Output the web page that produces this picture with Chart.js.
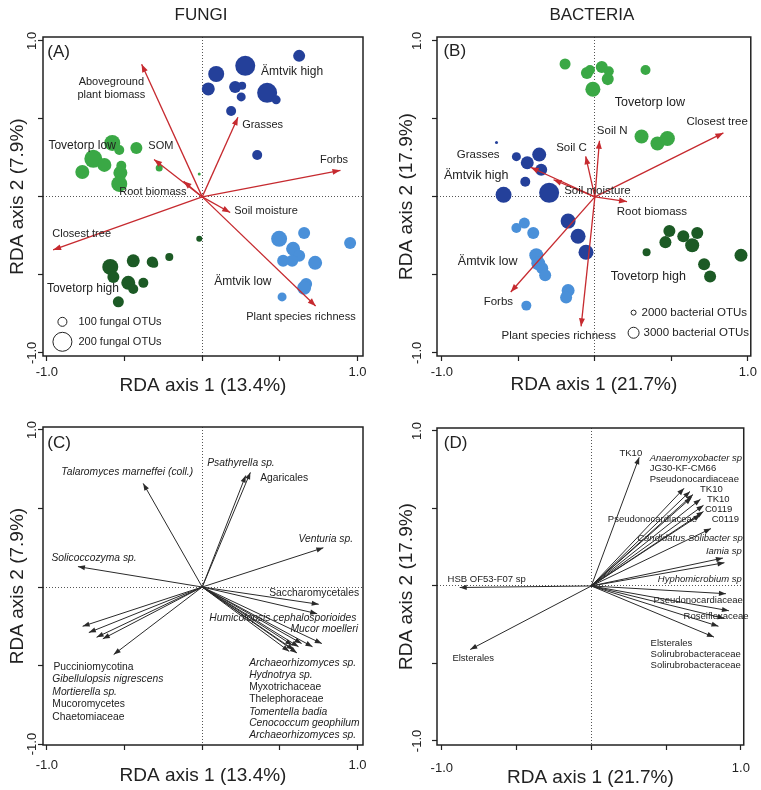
<!DOCTYPE html>
<html>
<head>
<meta charset="utf-8">
<script src="https://cdn.jsdelivr.net/npm/chart.js@4.4.0/dist/chart.umd.min.js"></script>
<style>
  html, body { margin: 0; padding: 0; background: #fff; }
  #wrap { position: relative; width: 761px; height: 790px; }
  canvas { position: absolute; }
</style>
</head>
<body>
<div id="wrap">
  <canvas id="panelA" width="380" height="398" style="left:0;top:0"></canvas>
  <canvas id="panelB" width="381" height="398" style="left:380px;top:0"></canvas>
  <canvas id="panelC" width="380" height="392" style="left:0;top:398px"></canvas>
  <canvas id="panelD" width="381" height="392" style="left:380px;top:398px"></canvas>
</div>
<script>
const FONT = '"Liberation Sans", Arial, sans-serif';

const tickValues = [-1, -0.5, 0, 0.5, 1];
const tickLabels = ['-1.0', '', '', '', '1.0'];

// fungi: sample scores [RDA1, RDA2, OTU richness]
const fungiAmtvikHigh = [[0.624,0.904,130],[0.277,0.840,210],[0.090,0.788,170],[0.039,0.692,140],[0.212,0.705,130],[0.257,0.712,90],[0.251,0.641,100],[0.418,0.667,210],[0.476,0.622,100],[0.186,0.551,110],[0.354,0.269,110]];
const fungiTovetorpLow = [[-0.579,0.346,170],[-0.534,0.301,110],[-0.424,0.314,130],[-0.701,0.244,190],[-0.772,0.160,150],[-0.630,0.205,150],[-0.521,0.199,110],[-0.527,0.154,150],[-0.534,0.083,170],[-0.277,0.186,80],[-0.019,0.147,40]];
const fungiTovetorpHigh = [[-0.592,-0.449,170],[-0.572,-0.513,130],[-0.444,-0.410,140],[-0.322,-0.417,120],[-0.309,-0.429,90],[-0.212,-0.385,90],[-0.476,-0.551,150],[-0.444,-0.590,110],[-0.379,-0.551,110],[-0.540,-0.673,120],[-0.019,-0.269,70]];
const fungiAmtvikLow = [[0.495,-0.269,170],[0.656,-0.231,130],[0.952,-0.295,130],[0.585,-0.333,150],[0.624,-0.378,130],[0.521,-0.410,130],[0.579,-0.410,130],[0.727,-0.423,150],[0.669,-0.558,130],[0.656,-0.583,150],[0.514,-0.641,100]];

// bacteria: sample scores [RDA1, RDA2, OTU richness]
const bactTovetorpLow = [[-0.195,0.852,3000],[-0.052,0.794,3170],[-0.032,0.813,2830],[0.045,0.832,3170],[0.091,0.806,2830],[0.084,0.755,3170],[-0.013,0.690,3670],[0.331,0.813,2830],[0.305,0.387,3500],[0.409,0.342,3500],[0.474,0.374,3670]];
const bactAmtvikHigh = [[-0.643,0.348,1670],[-0.513,0.258,2670],[-0.364,0.271,3500],[-0.442,0.219,3330],[-0.351,0.174,3170],[-0.455,0.097,2830],[-0.597,0.013,3830],[-0.299,0.026,4500],[-0.175,-0.155,3670],[-0.110,-0.252,3670],[-0.058,-0.355,3670]];
const bactAmtvikLow = [[-0.513,-0.200,2830],[-0.461,-0.168,3000],[-0.403,-0.232,3170],[-0.383,-0.374,3500],[-0.370,-0.426,3500],[-0.344,-0.458,3170],[-0.325,-0.503,3170],[-0.175,-0.600,3330],[-0.188,-0.645,3170],[-0.448,-0.697,2830]];
const bactTovetorpHigh = [[0.487,-0.219,3170],[0.578,-0.252,3170],[0.669,-0.232,3170],[0.461,-0.290,3170],[0.636,-0.310,3500],[0.338,-0.355,2500],[0.955,-0.374,3330],[0.714,-0.432,3170],[0.753,-0.510,3170]];

// environmental vectors
const fungiEnvNames = ['Aboveground plant biomass','Grasses','Forbs','SOM','Root biomass','Soil moisture','Closest tree','Plant species richness'];
const fungiEnvScores = [[-0.39,0.85],[0.23,0.51],[0.89,0.17],[-0.31,0.24],[-0.12,0.10],[0.18,-0.10],[-0.96,-0.34],[0.73,-0.70]];
const bactEnvNames = ['Closest tree','Soil N','Soil C','Grasses','Soil moisture','Root biomass','Forbs','Plant species richness'];
const bactEnvScores = [[0.84,0.41],[0.03,0.36],[-0.06,0.26],[-0.42,0.19],[-0.27,0.11],[0.21,-0.03],[-0.55,-0.61],[-0.09,-0.83]];

// taxa vectors
const fungiTaxaNames = ['Talaromyces marneffei (coll.)','Psathyrella sp.','Agaricales','Venturia sp.','Solicoccozyma sp.','Saccharomycetales','Humicolopsis cephalosporioides','Mucor moelleri','Archaeorhizomyces sp.','Hydnotrya sp.','Myxotrichaceae','Thelephoraceae','Tomentella badia','Cenococcum geophilum','Archaeorhizomyces sp.','Pucciniomycotina','Gibellulopsis nigrescens','Mortierella sp.','Mucoromycetes','Chaetomiaceae'];
const fungiTaxaScores = [[-0.38,0.66],[0.28,0.71],[0.31,0.73],[0.78,0.25],[-0.80,0.13],[0.75,-0.11],[0.74,-0.17],[0.77,-0.36],[0.71,-0.38],[0.64,-0.36],[0.62,-0.38],[0.58,-0.37],[0.59,-0.40],[0.56,-0.41],[0.61,-0.42],[-0.77,-0.25],[-0.73,-0.29],[-0.68,-0.32],[-0.64,-0.33],[-0.57,-0.43]];
const bactTaxaNames = ['TK10','Anaeromyxobacter sp','JG30-KF-CM66','Pseudonocardiaceae','TK10','TK10','C0119','C0119','Pseudonocardiaceae','Candidatus Solibacter sp','Iamia sp','Hyphomicrobium sp','HSB OF53-F07 sp','Pseudonocardiaceae','Roseiflexaceae','Elsterales','Solirubrobacteraceae','Solirubrobacteraceae','Elsterales'];
const bactTaxaScores = [[0.32,0.83],[0.62,0.63],[0.66,0.61],[0.68,0.59],[0.73,0.56],[0.75,0.52],[0.75,0.48],[0.73,0.46],[0.67,0.57],[0.80,0.37],[0.88,0.18],[0.89,0.15],[-0.88,-0.01],[0.90,-0.05],[0.92,-0.16],[0.89,-0.21],[0.85,-0.26],[0.82,-0.33],[-0.81,-0.41]];

const COL = {
  amtvikHigh: '#24409a',
  tovetorpLow: '#3aa845',
  tovetorpHigh: '#1c5a25',
  amtvikLow: '#4a90d9',
  env: '#c62a2f',
  taxa: '#2a2a2a',
  ink: '#222'
};

const fungiRadius = otus => 4.5 + (otus - 100) * 0.05;
const bactRadius = otus => 2.5 + (otus - 2000) * 0.003;

function bubbleSet(points, color, radius) {
  return {
    type: 'bubble',
    data: points.map(p => ({ x: p[0], y: p[1], r: radius(p[2]) })),
    backgroundColor: color,
    borderWidth: 0,
    order: 2
  };
}

function arrowSets(scores, color, width) {
  return scores.map(s => ({
    type: 'line',
    data: [{ x: 0, y: 0 }, { x: s[0], y: s[1] }],
    borderColor: color,
    borderWidth: width,
    pointRadius: 0,
    fill: false,
    order: 1,
    arrow: true
  }));
}

// per-panel decoration, looked up by canvas id
const decor = {};

const rdaDecor = {
  id: 'rdaDecor',
  afterDatasetsDraw(chart) {
    const d = decor[chart.canvas.id];
    const ctx = chart.ctx;
    chart.data.datasets.forEach((ds, i) => {
      if (!ds.arrow) return;
      const pts = chart.getDatasetMeta(i).data;
      const a = pts[0], b = pts[1];
      const ang = Math.atan2(b.y - a.y, b.x - a.x);
      ctx.save();
      ctx.fillStyle = ds.borderColor;
      ctx.translate(b.x, b.y);
      ctx.rotate(ang);
      ctx.beginPath();
      ctx.moveTo(0, 0);
      ctx.lineTo(-d.head[0], d.head[1]);
      ctx.lineTo(-d.head[0], -d.head[1]);
      ctx.closePath();
      ctx.fill();
      ctx.restore();
    });
  },
  afterDraw(chart) {
    const d = decor[chart.canvas.id];
    const ctx = chart.ctx;
    const area = chart.chartArea;
    const xs = chart.scales.x, ys = chart.scales.y;
    ctx.save();
    ctx.strokeStyle = COL.ink;
    ctx.lineWidth = 1.5;
    ctx.strokeRect(area.left, area.top, area.right - area.left, area.bottom - area.top);

    ctx.fillStyle = COL.ink;
    ctx.textBaseline = 'middle';

    // rotated y tick labels
    ctx.font = '13px ' + FONT;
    ctx.textAlign = 'center';
    tickValues.forEach((v, i) => {
      if (!tickLabels[i]) return;
      ctx.save();
      ctx.translate(area.left - d.yTickOff, ys.getPixelForValue(v));
      ctx.rotate(-Math.PI / 2);
      ctx.fillText(tickLabels[i], 0, 0);
      ctx.restore();
    });

    // axis titles
    ctx.font = '19px ' + FONT;
    ctx.fillText(d.xTitle, (area.left + area.right) / 2, area.bottom + d.xTitleOff);
    ctx.save();
    ctx.translate(area.left - d.yTitleOff, (area.top + area.bottom) / 2);
    ctx.rotate(-Math.PI / 2);
    ctx.fillText(d.yTitle, 0, 0);
    ctx.restore();

    if (d.heading) {
      ctx.font = '17px ' + FONT;
      ctx.fillText(d.heading, (area.left + area.right) / 2 - 2, 15);
    }

    // text labels
    d.labels.forEach(l => {
      ctx.font = d.fonts[l[0]] + ' ' + FONT;
      ctx.textAlign = l[4];
      ctx.fillText(l[1], xs.getPixelForValue(l[2]), ys.getPixelForValue(l[3]));
    });

    // size legend
    if (d.legend) {
      ctx.strokeStyle = COL.ink;
      ctx.lineWidth = 1;
      d.legend.forEach(c => {
        ctx.beginPath();
        ctx.arc(xs.getPixelForValue(c[0]), ys.getPixelForValue(c[1]), d.radius(c[2]), 0, Math.PI * 2);
        ctx.stroke();
      });
    }
    ctx.restore();
  }
};

function axis(range, dir, size, pad) {
  return {
    type: 'linear',
    min: range[0],
    max: range[1],
    afterBuildTicks: s => { s.ticks = tickValues.map(v => ({ value: v })); },
    afterFit: s => { if (dir === 'x') s.height = size; else s.width = size; },
    ticks: {
      display: dir === 'x',
      autoSkip: false,
      maxRotation: 0,
      minRotation: 0,
      padding: pad,
      color: COL.ink,
      font: { family: FONT, size: 13 },
      callback: (v, i) => tickLabels[i] || ''
    },
    grid: {
      color: c => (c.tick && c.tick.value === 0) ? '#555' : 'rgba(0,0,0,0)',
      lineWidth: 1,
      tickColor: COL.ink,
      tickBorderDash: [],
      tickLength: 5,
      tickWidth: 1.2
    },
    border: { display: false, dash: [1, 2] }
  };
}

function makeChart(id, datasets, d) {
  decor[id] = d;
  new Chart(document.getElementById(id), {
    type: 'bubble',
    data: { datasets: datasets },
    options: {
      responsive: false,
      animation: false,
      events: [],
      layout: { padding: { top: d.area.top, right: d.area.right, left: 0, bottom: 0 } },
      plugins: { legend: { display: false }, tooltip: { enabled: false } },
      scales: {
        x: axis(d.xRange, 'x', d.area.bottom, d.xTickPad),
        y: axis(d.yRange, 'y', d.area.left, 0)
      }
    },
    plugins: [rdaDecor]
  });
}

// (A) fungi, environment
makeChart('panelA', [
  ...arrowSets(fungiEnvScores, COL.env, 1.3),
  bubbleSet(fungiAmtvikHigh, COL.amtvikHigh, fungiRadius),
  bubbleSet(fungiTovetorpLow, COL.tovetorpLow, fungiRadius),
  bubbleSet(fungiTovetorpHigh, COL.tovetorpHigh, fungiRadius),
  bubbleSet(fungiAmtvikLow, COL.amtvikLow, fungiRadius)
], {
  area: { top: 37, right: 17, bottom: 42, left: 43 },
  xRange: [-1.025, 1.035], yRange: [-1.02, 1.025], xTickPad: 4,
  head: [8, 3], yTickOff: 11, yTitleOff: 25, xTitleOff: 30,
  heading: 'FUNGI',
  xTitle: 'RDA axis 1 (13.4%)', yTitle: 'RDA axis 2 (7.9%)',
  fonts: { letter: '17px', group: '12px', arrow: '11px', legend: '11px' },
  radius: fungiRadius,
  legend: [[-0.900, -0.801, 100], [-0.900, -0.929, 200]],
  labels: [
    ['letter', '(A)', -0.997, 0.929, 'left'],
    ['arrow', 'Aboveground', -0.585, 0.737, 'center'],
    ['arrow', 'plant biomass', -0.585, 0.654, 'center'],
    ['group', 'Ämtvik high', 0.379, 0.801, 'left'],
    ['arrow', 'Grasses', 0.257, 0.462, 'left'],
    ['group', 'Tovetorp low', -0.99, 0.327, 'left'],
    ['arrow', 'SOM', -0.347, 0.327, 'left'],
    ['arrow', 'Forbs', 0.939, 0.237, 'right'],
    ['arrow', 'Root biomass', -0.534, 0.032, 'left'],
    ['arrow', 'Soil moisture', 0.206, -0.09, 'left'],
    ['arrow', 'Closest tree', -0.965, -0.237, 'left'],
    ['group', 'Tovetorp high', -1.0, -0.59, 'left'],
    ['group', 'Ämtvik low', 0.077, -0.545, 'left'],
    ['arrow', 'Plant species richness', 0.283, -0.769, 'left'],
    ['legend', '100 fungal OTUs', -0.797, -0.801, 'left'],
    ['legend', '200 fungal OTUs', -0.797, -0.929, 'left']
  ]
});

// (B) bacteria, environment
makeChart('panelB', [
  ...arrowSets(bactEnvScores, COL.env, 1.3),
  bubbleSet(bactTovetorpLow, COL.tovetorpLow, bactRadius),
  bubbleSet(bactAmtvikHigh, COL.amtvikHigh, bactRadius),
  bubbleSet(bactAmtvikLow, COL.amtvikLow, bactRadius),
  bubbleSet(bactTovetorpHigh, COL.tovetorpHigh, bactRadius)
], {
  area: { top: 37, right: 8, bottom: 42, left: 57 },
  xRange: [-1.032, 1.019], yRange: [-1.02, 1.025], xTickPad: 4,
  head: [8, 3], yTickOff: 20, yTitleOff: 30, xTitleOff: 29,
  heading: 'BACTERIA',
  xTitle: 'RDA axis 1 (21.7%)', yTitle: 'RDA axis 2 (17.9%)',
  fonts: { letter: '17px', group: '12.5px', arrow: '11.5px', legend: '11.5px' },
  radius: bactRadius,
  legend: [[0.253, -0.742, 2000], [0.253, -0.871, 3000]],
  labels: [
    ['letter', '(B)', -0.99, 0.935, 'left'],
    ['group', 'Tovetorp low', 0.13, 0.606, 'left'],
    ['arrow', 'Closest tree', 1.0, 0.484, 'right'],
    ['arrow', 'Soil N', 0.013, 0.426, 'left'],
    ['arrow', 'Soil C', -0.253, 0.316, 'left'],
    ['arrow', 'Grasses', -0.903, 0.271, 'left'],
    ['group', 'Ämtvik high', -0.987, 0.135, 'left'],
    ['arrow', 'Soil moisture', -0.201, 0.039, 'left'],
    ['arrow', 'Root biomass', 0.143, -0.097, 'left'],
    ['group', 'Ämtvik low', -0.896, -0.413, 'left'],
    ['group', 'Tovetorp high', 0.104, -0.51, 'left'],
    ['arrow', 'Forbs', -0.727, -0.671, 'left'],
    ['arrow', 'Plant species richness', -0.61, -0.89, 'left'],
    ['legend', '2000 bacterial OTUs', 0.305, -0.742, 'left'],
    ['legend', '3000 bacterial OTUs', 0.318, -0.871, 'left']
  ]
});

// (C) fungi, taxa
makeChart('panelC', arrowSets(fungiTaxaScores, COL.taxa, 1), {
  area: { top: 29, right: 17, bottom: 45, left: 43 },
  xRange: [-1.025, 1.035], yRange: [-1.006, 1.019], xTickPad: 8,
  head: [7, 2.6], yTickOff: 11, yTitleOff: 25, xTitleOff: 31,
  xTitle: 'RDA axis 1 (13.4%)', yTitle: 'RDA axis 2 (7.9%)',
  fonts: { letter: '17px', tax: '10.3px', taxi: 'italic 10.3px' },
  labels: [
    ['letter', '(C)', -0.997, 0.917, 'left'],
    ['taxi', 'Talaromyces marneffei (coll.)', -0.907, 0.732, 'left'],
    ['taxi', 'Psathyrella sp.', 0.032, 0.79, 'left'],
    ['tax', 'Agaricales', 0.373, 0.694, 'left'],
    ['taxi', 'Venturia sp.', 0.971, 0.306, 'right'],
    ['taxi', 'Solicoccozyma sp.', -0.971, 0.185, 'left'],
    ['tax', 'Saccharomycetales', 0.431, -0.038, 'left'],
    ['taxi', 'Humicolopsis cephalosporioides', 0.045, -0.197, 'left'],
    ['taxi', 'Mucor moelleri', 1.003, -0.268, 'right'],
    ['taxi', 'Archaeorhizomyces sp.', 0.302, -0.484, 'left'],
    ['taxi', 'Hydnotrya sp.', 0.302, -0.561, 'left'],
    ['tax', 'Myxotrichaceae', 0.302, -0.637, 'left'],
    ['tax', 'Thelephoraceae', 0.302, -0.713, 'left'],
    ['taxi', 'Tomentella badia', 0.302, -0.796, 'left'],
    ['taxi', 'Cenococcum geophilum', 0.302, -0.866, 'left'],
    ['taxi', 'Archaeorhizomyces sp.', 0.302, -0.943, 'left'],
    ['tax', 'Pucciniomycotina', -0.958, -0.51, 'left'],
    ['taxi', 'Gibellulopsis nigrescens', -0.965, -0.586, 'left'],
    ['taxi', 'Mortierella sp.', -0.965, -0.669, 'left'],
    ['tax', 'Mucoromycetes', -0.965, -0.745, 'left'],
    ['tax', 'Chaetomiaceae', -0.965, -0.828, 'left']
  ]
});

// (D) bacteria, taxa
makeChart('panelD', arrowSets(bactTaxaScores, COL.taxa, 1), {
  area: { top: 30, right: 8, bottom: 45, left: 57 },
  xRange: [-1.032, 1.019], yRange: [-1.026, 1.019], xTickPad: 11,
  head: [7, 2.6], yTickOff: 20, yTitleOff: 30, xTitleOff: 33,
  xTitle: 'RDA axis 1 (21.7%)', yTitle: 'RDA axis 2 (17.9%)',
  fonts: { letter: '17px', bac: '9.5px', baci: 'italic 9.5px' },
  labels: [
    ['letter', '(D)', -0.987, 0.923, 'left'],
    ['bac', 'TK10', 0.188, 0.858, 'left'],
    ['baci', 'Anaeromyxobacter sp', 0.39, 0.826, 'left'],
    ['bac', 'JG30-KF-CM66', 0.39, 0.761, 'left'],
    ['bac', 'Pseudonocardiaceae', 0.39, 0.69, 'left'],
    ['bac', 'TK10', 0.727, 0.626, 'left'],
    ['bac', 'TK10', 0.773, 0.561, 'left'],
    ['bac', 'C0119', 0.76, 0.497, 'left'],
    ['bac', 'C0119', 0.805, 0.432, 'left'],
    ['bac', 'Pseudonocardiaceae', 0.11, 0.432, 'left'],
    ['baci', 'Candidatus Solibacter sp', 1.013, 0.31, 'right'],
    ['baci', 'Iamia sp', 1.006, 0.226, 'right'],
    ['baci', 'Hyphomicrobium sp', 1.006, 0.045, 'right'],
    ['bac', 'HSB OF53-F07 sp', -0.961, 0.045, 'left'],
    ['bac', 'Pseudonocardiaceae', 1.013, -0.09, 'right'],
    ['bac', 'Roseiflexaceae', 0.617, -0.194, 'left'],
    ['bac', 'Elsterales', 0.396, -0.368, 'left'],
    ['bac', 'Solirubrobacteraceae', 0.396, -0.439, 'left'],
    ['bac', 'Solirubrobacteraceae', 0.396, -0.51, 'left'],
    ['bac', 'Elsterales', -0.929, -0.465, 'left']
  ]
});
</script>
</body>
</html>
